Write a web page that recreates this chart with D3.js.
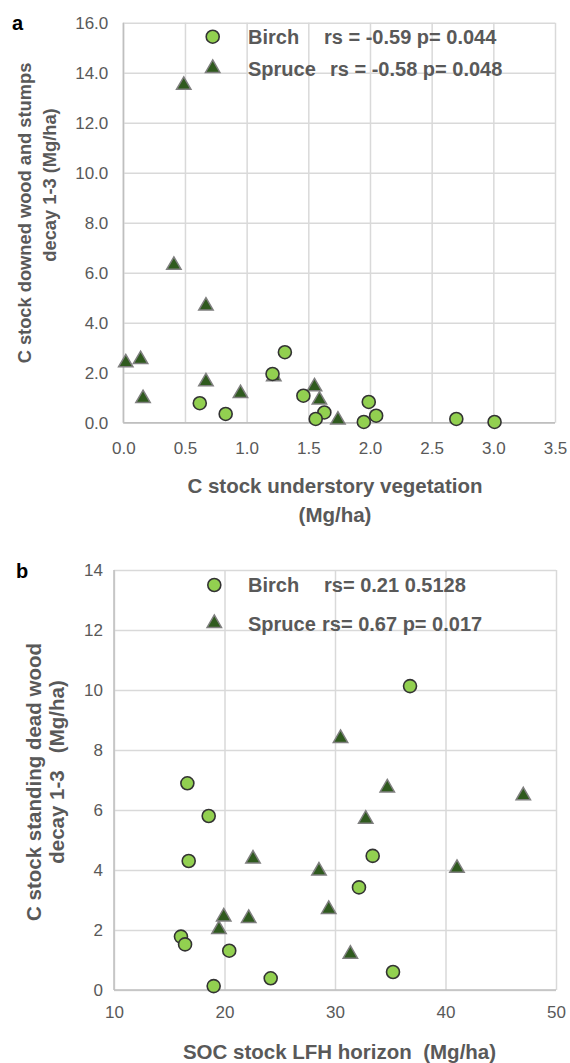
<!DOCTYPE html>
<html>
<head>
<meta charset="utf-8">
<script src="https://cdn.jsdelivr.net/npm/d3@7"></script>
<style>
  body { margin: 0; background: #fff; }
  text { font-family: "Liberation Sans", Arial, Helvetica, sans-serif; }
</style>
</head>
<body>
<div id="vis"></div>
<script>
// panel a: understory vegetation vs downed wood
const birchA_x = [1.31, 1.21, 0.62, 0.83, 1.46, 1.63, 1.56, 1.99, 1.95, 2.05, 2.70, 3.01];
const birchA_y = [2.82, 1.95, 0.78, 0.35, 1.08, 0.41, 0.15, 0.83, 0.03, 0.28, 0.15, 0.03];
const spruceA_x = [0.49, 0.41, 0.67, 0.02, 0.14, 0.67, 0.16, 0.95, 1.22, 1.55, 1.59, 1.74];
const spruceA_y = [13.5, 6.3, 4.67, 2.4, 2.53, 1.64, 0.97, 1.17, 1.84, 1.44, 0.91, 0.11];
const ticksA_x = [0, 0.5, 1, 1.5, 2, 2.5, 3, 3.5];
const ticksA_y = [0, 2, 4, 6, 8, 10, 12, 14, 16];

// panel b: SOC stock LFH vs standing dead wood
const birchB_x = [16.64, 18.57, 16.76, 33.41, 32.17, 36.79, 16.06, 16.43, 20.43, 24.18, 19.02, 35.25];
const birchB_y = [6.89, 5.8, 4.3, 4.47, 3.42, 10.13, 1.78, 1.52, 1.31, 0.39, 0.13, 0.6];
const spruceB_x = [30.5, 34.73, 47.04, 32.78, 22.58, 28.55, 41.04, 19.93, 22.19, 19.5, 29.43, 31.39];
const spruceB_y = [8.39, 6.74, 6.48, 5.7, 4.37, 3.97, 4.06, 2.44, 2.39, 2.02, 2.69, 1.2];
const ticksB_x = [10, 20, 30, 40, 50];
const ticksB_y = [0, 2, 4, 6, 8, 10, 12, 14];

const birchFill = "#92d050", birchStroke = "#333333";
const spruceFill = "#2f5a1e", spruceStroke = "#7f7f7f";
const textGray = "#595959";

const svg = d3.select("#vis").append("svg")
    .attr("width", 570)
    .attr("height", 1063);

const zip = (xs, ys) => xs.map((x, i) => ({x: x, y: ys[i]}));

function panel(opt) {
    const g = svg.append("g");
    const x = d3.scaleLinear().domain(opt.xDomain).range(opt.xRange);
    const y = d3.scaleLinear().domain(opt.yDomain).range(opt.yRange);
    const w = opt.xRange[1] - opt.xRange[0];
    const h = opt.yRange[0] - opt.yRange[1];

    // y axis + horizontal grid
    const ya = g.append("g")
        .attr("transform", "translate(" + opt.xRange[0] + ",0)")
        .call(d3.axisLeft(y).tickValues(opt.yTicks).tickFormat(opt.yFmt)
            .tickSizeInner(-w).tickSizeOuter(0).tickPadding(opt.yPad));
    // x axis + vertical grid
    const xa = g.append("g")
        .attr("transform", "translate(0," + opt.yRange[0] + ")")
        .call(d3.axisBottom(x).tickValues(opt.xTicks).tickFormat(opt.xFmt)
            .tickSizeInner(-h).tickSizeOuter(0).tickPadding(opt.xPad));
    [ya, xa].forEach(a => {
        a.select(".domain").remove();
        a.selectAll("line").attr("stroke", "#d9d9d9").attr("stroke-width", 1.5);
        a.selectAll("text").attr("fill", textGray).style("font-size", "17px");
    });
    // axis lines
    g.append("line")
        .attr("x1", opt.xRange[0]).attr("x2", opt.xRange[0])
        .attr("y1", opt.yRange[0]).attr("y2", opt.yRange[1])
        .attr("stroke", "#bfbfbf").attr("stroke-width", 1.5);
    g.append("line")
        .attr("x1", opt.xRange[0]).attr("x2", opt.xRange[1])
        .attr("y1", opt.yRange[0]).attr("y2", opt.yRange[0])
        .attr("stroke", "#bfbfbf").attr("stroke-width", 1.5);

    // spruce triangles
    g.selectAll(".spruce")
        .data(opt.spruce)
        .enter().append("path")
        .attr("class", "spruce")
        .attr("d", d3.symbol().type(d3.symbolTriangle).size(90))
        .attr("transform", d => "translate(" + x(d.x) + "," + y(d.y) + ")")
        .attr("fill", spruceFill)
        .attr("stroke", spruceStroke)
        .attr("stroke-width", 1.5);

    // birch circles
    g.selectAll(".birch")
        .data(opt.birch)
        .enter().append("circle")
        .attr("class", "birch")
        .attr("cx", d => x(d.x))
        .attr("cy", d => y(d.y))
        .attr("r", 6.5)
        .attr("fill", birchFill)
        .attr("stroke", birchStroke)
        .attr("stroke-width", 1.6);

    // legend
    const lg = g.append("g");
    lg.append("circle")
        .attr("cx", opt.legX).attr("cy", opt.legY[0]).attr("r", 6.5)
        .attr("fill", birchFill).attr("stroke", birchStroke).attr("stroke-width", 1.6);
    lg.append("path")
        .attr("d", d3.symbol().type(d3.symbolTriangle).size(90))
        .attr("transform", "translate(" + opt.legX + "," + opt.legY[1] + ")")
        .attr("fill", spruceFill).attr("stroke", spruceStroke).attr("stroke-width", 1.5);
    opt.legText.forEach((t, i) => {
        const tx = lg.append("text")
            .attr("y", opt.legY[i]).attr("dy", "0.36em")
            .attr("fill", textGray)
            .style("font-size", "20px").style("font-weight", "bold");
        tx.append("tspan").attr("x", 248).text(t[0]);
        tx.append("tspan").attr("x", opt.legStatX[i]).text(t[1]);
    });

    // x title
    opt.xTitle.forEach((t, i) => {
        g.append("text")
            .attr("x", opt.xTitleX).attr("y", opt.xTitleY[i])
            .attr("text-anchor", "middle")
            .attr("fill", textGray)
            .style("font-size", "20.5px").style("font-weight", "bold")
            .style("white-space", "pre")
            .text(t);
    });
    // y title
    opt.yTitle.forEach((t, i) => {
        g.append("text")
            .attr("transform", "translate(" + opt.yTitleX[i] + "," + opt.yTitleY[i] + ") rotate(-90)")
            .attr("text-anchor", "middle")
            .attr("dy", "0.35em")
            .attr("fill", textGray)
            .style("font-size", opt.yTitleSize).style("font-weight", "bold")
            .style("white-space", "pre")
            .text(t);
    });
    // panel letter
    g.append("text")
        .attr("x", opt.letterX).attr("y", opt.letterY)
        .attr("fill", "#000")
        .style("font-size", "20px").style("font-weight", "bold")
        .text(opt.letter);
}

panel({
    xDomain: [0, 3.5], xRange: [123.3, 555],
    yDomain: [0, 16], yRange: [422.7, 22.7],
    xTicks: ticksA_x, yTicks: ticksA_y,
    xFmt: d3.format(".1f"), yFmt: d3.format(".1f"),
    yPad: 15, xPad: 19,
    birch: zip(birchA_x, birchA_y), spruce: zip(spruceA_x, spruceA_y),
    legX: 212.7, legY: [36.7, 68.3], legStatX: [324, 330],
    legText: [["Birch", "rs = -0.59 p= 0.044"], ["Spruce", "rs = -0.58 p= 0.048"]],
    xTitle: ["C stock understory vegetation", "(Mg/ha)"], xTitleX: 335, xTitleY: [493, 522],
    yTitle: ["C stock downed wood and stumps", "decay 1-3 (Mg/ha)"],
    yTitleX: [25, 50], yTitleY: [213, 185], yTitleSize: "18.3px",
    letter: "a", letterX: 12, letterY: 30
});

panel({
    xDomain: [10, 50], xRange: [114, 556],
    yDomain: [0, 14], yRange: [990, 570],
    xTicks: ticksB_x, yTicks: ticksB_y,
    xFmt: d3.format("d"), yFmt: d3.format("d"),
    yPad: 11, xPad: 16,
    birch: zip(birchB_x, birchB_y), spruce: zip(spruceB_x, spruceB_y),
    legX: 214.3, legY: [585, 623.3], legStatX: [324, 322],
    legText: [["Birch", "rs= 0.21 0.5128"], ["Spruce", "rs= 0.67 p= 0.017"]],
    xTitle: ["SOC stock LFH horizon  (Mg/ha)"], xTitleX: 339.5, xTitleY: [1059],
    yTitle: ["C stock standing dead wood", "decay 1-3   (Mg/ha)"],
    yTitleX: [34, 57], yTitleY: [782, 772], yTitleSize: "20.5px",
    letter: "b", letterX: 16, letterY: 578
});
</script>
</body>
</html>
